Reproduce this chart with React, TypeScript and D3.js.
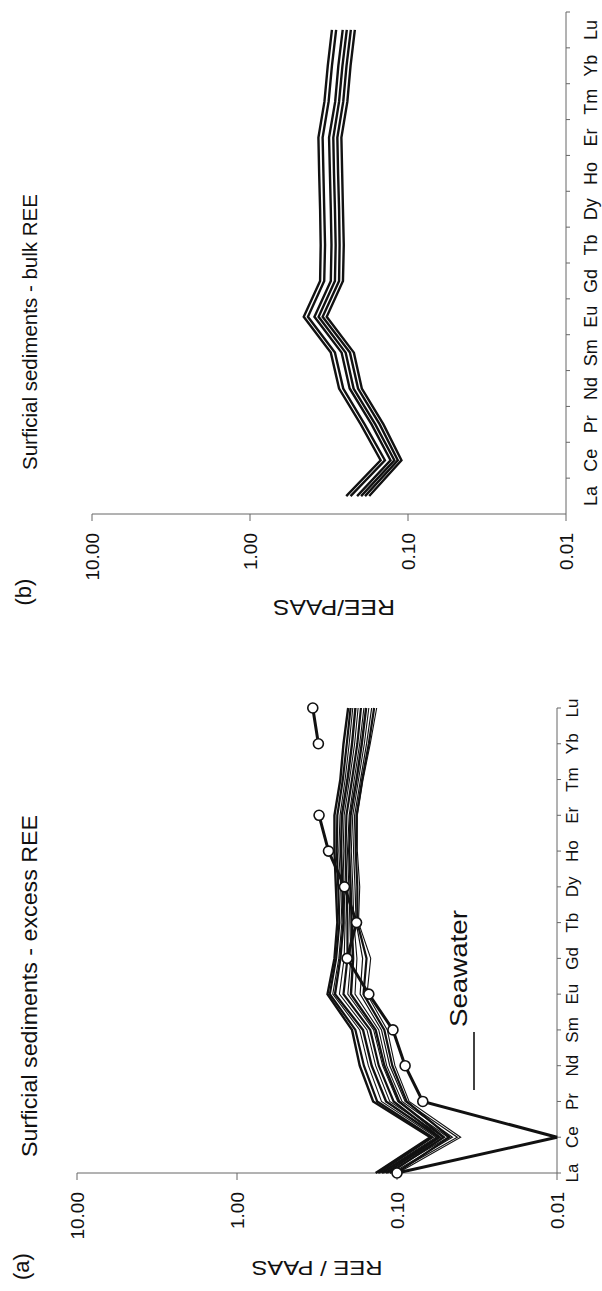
import React from 'react';
import * as d3 from 'd3';

// ---------- data ----------
const ELEMENTS = ['La', 'Ce', 'Pr', 'Nd', 'Sm', 'Eu', 'Gd', 'Tb', 'Dy', 'Ho', 'Er', 'Tm', 'Yb', 'Lu'];
const VALUE_TICKS = [10, 1, 0.1, 0.01];

// panel (a): seawater (open circles), Tm not measured
const seawater: (number | null)[] = [0.10, 0.01, 0.069, 0.089, 0.106, 0.150, 0.205, 0.179, 0.213, 0.268, 0.307, null, 0.31, 0.336];

// panel (a): surficial sediments - excess REE
const excess01 = [0.136, 0.062, 0.141, 0.171, 0.191, 0.272, 0.246, 0.236, 0.241, 0.246, 0.246, 0.226, 0.216, 0.202];
const excess02 = [0.131, 0.060, 0.133, 0.161, 0.182, 0.263, 0.240, 0.229, 0.233, 0.238, 0.236, 0.218, 0.206, 0.195];
const excess03 = [0.127, 0.057, 0.125, 0.151, 0.171, 0.252, 0.231, 0.221, 0.225, 0.231, 0.227, 0.211, 0.199, 0.189];
const excess04 = [0.124, 0.055, 0.117, 0.144, 0.163, 0.244, 0.226, 0.216, 0.219, 0.224, 0.221, 0.204, 0.191, 0.182];
const excess05 = [0.120, 0.051, 0.111, 0.136, 0.154, 0.229, 0.214, 0.211, 0.214, 0.217, 0.214, 0.198, 0.184, 0.175];
const excess06 = [0.117, 0.054, 0.105, 0.130, 0.147, 0.216, 0.204, 0.204, 0.207, 0.210, 0.207, 0.191, 0.177, 0.168];
const excess07 = [0.114, 0.048, 0.099, 0.123, 0.140, 0.203, 0.194, 0.197, 0.200, 0.204, 0.199, 0.185, 0.171, 0.161];
const excess08 = [0.111, 0.051, 0.097, 0.120, 0.136, 0.194, 0.188, 0.192, 0.195, 0.199, 0.195, 0.179, 0.166, 0.156];
const excess09 = [0.107, 0.045, 0.093, 0.116, 0.130, 0.183, 0.178, 0.186, 0.189, 0.193, 0.189, 0.174, 0.160, 0.150];
const excess10 = [0.104, 0.042, 0.089, 0.111, 0.125, 0.170, 0.164, 0.180, 0.183, 0.187, 0.184, 0.169, 0.155, 0.144];
const excess11 = [0.101, 0.047, 0.087, 0.107, 0.120, 0.162, 0.155, 0.177, 0.177, 0.181, 0.179, 0.165, 0.150, 0.139];
const excess12 = [0.099, 0.040, 0.084, 0.103, 0.115, 0.154, 0.146, 0.174, 0.171, 0.177, 0.177, 0.163, 0.147, 0.134];

// panel (b): surficial sediments - bulk REE
const bulk01 = [0.246, 0.149, 0.199, 0.273, 0.308, 0.457, 0.360, 0.357, 0.360, 0.365, 0.369, 0.338, 0.322, 0.303];
const bulk02 = [0.231, 0.140, 0.188, 0.257, 0.290, 0.430, 0.339, 0.335, 0.339, 0.343, 0.347, 0.318, 0.303, 0.285];
const bulk03 = [0.210, 0.129, 0.170, 0.234, 0.263, 0.391, 0.308, 0.305, 0.308, 0.312, 0.316, 0.289, 0.276, 0.259];
const bulk04 = [0.198, 0.122, 0.161, 0.221, 0.248, 0.368, 0.290, 0.287, 0.290, 0.294, 0.297, 0.273, 0.260, 0.244];
const bulk05 = [0.187, 0.116, 0.151, 0.207, 0.233, 0.347, 0.273, 0.271, 0.273, 0.277, 0.280, 0.257, 0.245, 0.230];
const bulk06 = [0.176, 0.110, 0.143, 0.196, 0.220, 0.327, 0.258, 0.255, 0.258, 0.261, 0.264, 0.242, 0.231, 0.217];

const EXCESS_SERIES = [excess01, excess02, excess03, excess04, excess05, excess06, excess07, excess08, excess09, excess10, excess11, excess12];
const BULK_SERIES = [bulk01, bulk02, bulk03, bulk04, bulk05, bulk06];

// ---------- styles ----------
const EXCESS_WIDTHS = [2.4, 2.2, 1.1, 2.4, 1.1, 2.2, 1.1, 2.4, 1.1, 1.2, 2.2, 1.1];
const BULK_WIDTHS = [2.4, 2.4, 2.4, 2.4, 2.4, 2.4];
const FONT_A = "'Liberation Sans', Arial, sans-serif";
const FONT_B = "'Liberation Sans', Arial, sans-serif";
const AXIS_COLOR = '#666';
const INK = '#111';

// figure is drawn in its original landscape frame and rotated onto the portrait page
const FIG_W = 1291;
const FIG_H = 602;

export default function App() {
  const xA = d3.scalePoint<string>().domain(ELEMENTS).range([118, 583]);
  const yA = d3.scaleLog().domain([0.01, 10]).range([557, 77]);
  const xB = d3.scaleBand<string>().domain(ELEMENTS).range([777, 1279]);
  const yB = d3.scaleLog().domain([0.01, 10]).range([566, 92]);
  const fmt = d3.format('.2f');

  const lineA = d3
    .line<number | null>()
    .defined((d) => d != null)
    .x((_, i) => xA(ELEMENTS[i]) as number)
    .y((d) => yA(d as number));
  const lineB = d3
    .line<number>()
    .x((_, i) => (xB(ELEMENTS[i]) as number) + xB.bandwidth() / 2)
    .y((d) => yB(d));

  const [aMin] = yA.domain();

  return (
    <svg
      width={FIG_H}
      height={FIG_W}
      style={{ position: 'absolute', left: 0, top: 0, background: '#fff' }}
    >
      <rect x={0} y={0} width={FIG_H} height={FIG_W} fill="#fff" />
      <g transform={`translate(0,${FIG_W}) rotate(-90)`}>
        {/* ================= panel (a) ================= */}
        <g fontFamily={FONT_A} fill={INK}>
          <text x={11} y={29} fontSize={22}>(a)</text>
          <text x={134} y={37} fontSize={22} textLength={342} lengthAdjust="spacingAndGlyphs">
            Surficial sediments - excess REE
          </text>
          {/* value axis */}
          <line x1={xA('La')} x2={xA('La')} y1={yA(10)} y2={yA(0.01)} stroke={AXIS_COLOR} strokeWidth={1} />
          {VALUE_TICKS.map((t) => (
            <g key={'ta' + t}>
              <line x1={(xA('La') as number) - 7} x2={xA('La')} y1={yA(t)} y2={yA(t)} stroke={AXIS_COLOR} />
              <text x={99} y={yA(t)} fontSize={19} textAnchor="end" dominantBaseline="central">
                {fmt(t)}
              </text>
            </g>
          ))}
          <text
            transform={`translate(23,${(yA(10) + yA(0.01)) / 2}) rotate(-90)`}
            fontSize={20}
            textAnchor="middle"
            dominantBaseline="central"
            textLength={131}
            lengthAdjust="spacingAndGlyphs"
          >
            REE / PAAS
          </text>
          {/* category axis */}
          <line x1={xA('La')} x2={xA('Lu')} y1={yA(0.01)} y2={yA(0.01)} stroke={AXIS_COLOR} strokeWidth={1} />
          {ELEMENTS.map((e) => (
            <g key={'ca' + e}>
              <line x1={xA(e)} x2={xA(e)} y1={yA(0.01)} y2={yA(0.01) + 4} stroke={AXIS_COLOR} />
              <text x={xA(e)} y={578} fontSize={17} textAnchor="middle">
                {e}
              </text>
            </g>
          ))}
          {/* sediment lines */}
          {EXCESS_SERIES.map((s, i) => (
            <path key={'ex' + i} d={lineA(s) || ''} fill="none" stroke={INK} strokeWidth={EXCESS_WIDTHS[i]} />
          ))}
          {/* seawater */}
          <path d={lineA(seawater) || ''} fill="none" stroke={INK} strokeWidth={3} />
          {seawater.map((v, i) =>
            v != null && v > aMin ? (
              <circle key={'sw' + i} cx={xA(ELEMENTS[i])} cy={yA(v)} r={5} fill="#fff" stroke={INK} strokeWidth={1.6} />
            ) : null
          )}
          <line x1={201} x2={259} y1={474} y2={474} stroke={INK} strokeWidth={1.6} />
          <text x={264} y={467} fontSize={24} textLength={117} lengthAdjust="spacingAndGlyphs">
            Seawater
          </text>
        </g>

        {/* ================= panel (b) ================= */}
        <g fontFamily={FONT_B} fill={INK}>
          <text x={699} y={31} fontSize={22} textAnchor="middle">(b)</text>
          <text x={821} y={37} fontSize={21} textLength={276} lengthAdjust="spacingAndGlyphs">
            Surficial sediments - bulk REE
          </text>
          {/* value axis */}
          <line x1={777} x2={777} y1={yB(10)} y2={yB(0.01)} stroke={AXIS_COLOR} strokeWidth={1} />
          {VALUE_TICKS.map((t) => (
            <g key={'tb' + t}>
              <line x1={770} x2={777} y1={yB(t)} y2={yB(t)} stroke={AXIS_COLOR} />
              <text x={758} y={yB(t)} fontSize={19} textAnchor="end" dominantBaseline="central">
                {fmt(t)}
              </text>
            </g>
          ))}
          <text
            transform={`translate(684,${(yB(10) + yB(0.01)) / 2 + 5}) rotate(-90)`}
            fontSize={22}
            textAnchor="middle"
            dominantBaseline="central"
            textLength={122}
            lengthAdjust="spacingAndGlyphs"
          >
            REE/PAAS
          </text>
          {/* category axis */}
          <line x1={777} x2={1279} y1={yB(0.01)} y2={yB(0.01)} stroke={AXIS_COLOR} strokeWidth={1} />
          {ELEMENTS.map((e) => (
            <g key={'cb' + e}>
              <line
                x1={(xB(e) as number) + xB.bandwidth()}
                x2={(xB(e) as number) + xB.bandwidth()}
                y1={yB(0.01)}
                y2={yB(0.01) + 4}
                stroke={AXIS_COLOR}
              />
              <text x={(xB(e) as number) + xB.bandwidth() / 2} y={597} fontSize={18} textAnchor="middle">
                {e}
              </text>
            </g>
          ))}
          {BULK_SERIES.map((s, i) => (
            <path key={'bk' + i} d={lineB(s) || ''} fill="none" stroke={INK} strokeWidth={BULK_WIDTHS[i]} />
          ))}
        </g>
      </g>
    </svg>
  );
}
